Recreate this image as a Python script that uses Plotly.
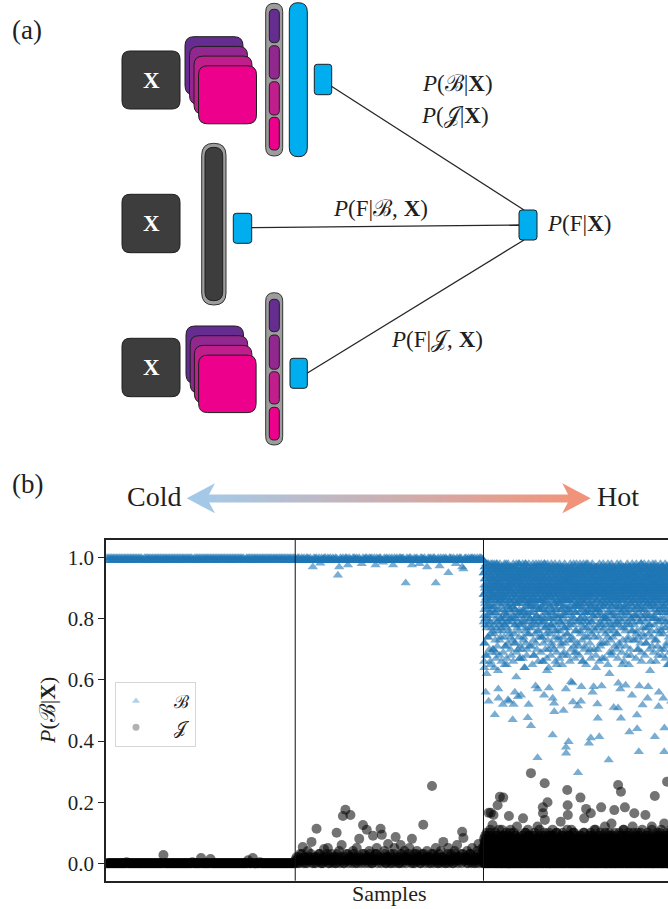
import numpy as np
import plotly.graph_objects as go

W, H = 668, 909

# ---------------- data (values in percent) ----------------
regime_names = ["Cold", "Hot"]
region_len = 1000  # x-axis span given to each temperature regime

# every regime holds two interleaved batches of samples (a, b)
cold_B_a = [100, 100, 100, 100, 100, 100, 100, 100, 100, 100, 100, 100, 100, 100, 100, 100, 100, 100, 100, 100,
            100, 100, 100, 99.6, 100, 100, 100, 100, 100, 100, 100, 100, 100, 100, 100, 100, 100, 100, 100, 100,
            100, 100, 100, 100, 100, 100, 100, 100, 100, 100, 100, 100, 100, 100, 100, 99.7, 100, 100, 100, 100,
            100, 100, 100, 100, 100, 100, 100, 100, 100, 100, 100, 100, 100, 100, 100, 100, 100, 100, 100, 100,
            100, 100, 100, 100, 100, 100, 100, 100, 99.5, 100, 100, 100, 100, 100, 100, 100, 100, 100, 100, 100,
            100, 100, 100, 100, 100, 100, 100, 100, 100, 100, 100, 100, 100, 100, 100, 100, 100, 100, 100, 100]
cold_B_b = [99, 99.2, 99, 99.4, 99, 99.1, 99.3, 99, 99.2, 99, 99, 99.4, 99.1, 99, 99.2, 99, 99.3, 99, 99.1, 99.2,
            99, 99.3, 99.1, 99, 99.2, 99, 99.4, 99, 99.1, 99, 99.2, 99.3, 99, 99.1, 99, 99.2, 99, 99.4, 99, 99.1,
            99.2, 99, 99.3, 99, 99.1, 99.2, 99, 99, 99.4, 99.1, 99, 99.2, 99.3, 99, 99.1, 99, 99.2, 99, 99.3, 99,
            99.1, 99, 99.2, 99.4, 99, 99.1, 99.3, 99, 99.2, 99, 99.1, 99, 99.4, 99.2, 99, 99.3, 99.1, 99, 99.2, 99,
            99, 99.3, 99.1, 99, 99.2, 99.4, 99, 99.1, 99, 99.3, 99.2, 99, 99.1, 99, 99.4, 99, 99.2, 99.1, 99, 99.3,
            99.2, 99, 99.1, 99.3, 99, 99.2, 99, 99.4, 99.1, 99, 99.2, 99.3, 99, 99.1, 99, 99.2, 99.4, 99, 99.1, 99]
cold_J_a = [0, 0, 0, 0, 0, 0, 0, 0, 0, 0, 0, 0, 0, 0, 0, 0, 0, 0, 0, 0,
            0, 0, 0, 0, 0, 0, 0, 0, 0, 0, 0, 0, 0, 0, 0, 0, 2.7, 0, 0, 0,
            0, 0, 0, 0, 0, 0, 0, 0, 0, 0, 0, 0, 0, 0, 0, 0, 0, 0, 0, 0,
            1.7, 0, 0, 0, 0, 0, 1.4, 0, 0, 0, 0, 0, 0, 0, 0, 0, 0, 0, 0, 0,
            0, 0, 0, 0, 0, 0, 0, 0, 0, 0, 1, 0, 0, 1.7, 0, 0, 0, 0, 0, 0,
            0, 0, 0, 0, 0, 0, 0, 0, 0, 0, 0, 0, 0, 0, 0, 0, 0, 0, 0, 0]
cold_J_b = [0, 0, 0, 0, 0, 0, 0, 0, 0, 0, 0, 0, 0.3, 0, 0, 0, 0, 0, 0, 0,
            0, 0, 0, 0, 0, 0, 0, 0, 0, 0, 0, 0, 0, 0, 0, 0, 0, 0, 0, 0,
            0, 0, 0, 0, 0, 0, 0, 0, 0, 0, 0, 0, 0, 0, 0.3, 0, 0, 0, 0, 0,
            0, 0, 0, 0, 0, 0, 0, 0, 0, 0, 0, 0, 0, 0, 0, 0, 0, 0, 0, 0,
            0, 0, 0, 0, 0, 0, 0, 0, 0, 0, 0, 0, 0, 0, 0, 0, 0, 0.3, 0, 0,
            0, 0, 0, 0, 0, 0, 0, 0, 0, 0, 0, 0, 0, 0, 0, 0, 0, 0, 0, 0]

mid_B_a = [100, 99.4, 100, 100, 99.1, 100, 99.7, 100, 99.3, 100, 100, 99.6, 100, 99, 97,
           100, 99.8, 100, 99.2, 100, 98.2, 100, 99.5, 100, 100, 99.1, 100, 99.7, 100, 99.4,
           100, 99.3, 100, 99.8, 94.3, 97, 100, 99.5, 100, 99.1, 100, 100, 97.6, 100, 99.6,
           99.2, 100, 100, 99.7, 100, 99.4, 100, 99, 98, 100, 99.6, 100, 100, 99.3, 100,
           99.8, 100, 99.1, 100, 97.6, 100, 99.5, 100, 100, 99.2, 98.5, 100, 99.7, 100, 99.4,
           100, 99, 100, 97.6, 100, 99.6, 100, 99.3, 100, 100, 99.8, 100, 99.2, 91.7, 100,
           99.5, 100, 100, 97.6, 99.1, 100, 99.7, 100, 99.4, 98, 100, 100, 99.6, 100, 99.2,
           97, 100, 99.8, 100, 99.3, 100, 100, 91.7, 99.5, 100, 97.3, 100, 99, 100, 99.7,
           100, 99.4, 95.1, 100, 100, 99.1, 100, 99.6, 98, 100, 99.3, 100, 100, 97, 96.3,
           99.8, 100, 99.2, 100, 99.5, 100, 100, 99.7, 100, 99, 100, 99.4, 100, 100, 99.6]
mid_B_b = [99.1, 99, 99.3, 99, 99.2, 99.4, 99, 99.1, 99, 99.3, 99.2, 99, 99.1, 99.4, 99,
           99.2, 99, 99.1, 99.3, 99, 99.2, 99, 99.4, 99.1, 99, 99.3, 99, 99.2, 99.1, 99,
           99.4, 99, 99.2, 99, 99.1, 99.3, 99, 99.2, 99, 99.1, 99.4, 99, 99.3, 99, 99.2,
           99, 99.1, 99.3, 99, 99.2, 99, 99.4, 99.1, 99, 99.2, 99.3, 99, 99.1, 99, 99.2,
           99.3, 99, 99.1, 99.2, 99, 99.4, 99, 99.3, 99.1, 99, 99.2, 99, 99.1, 99.3, 99,
           99.2, 99.4, 99, 99.1, 99, 99.3, 99.2, 99, 99.1, 99, 99.4, 99.2, 99, 99.3, 99,
           99.1, 99, 99.2, 99.4, 99, 99.1, 99.3, 99, 99.2, 99, 99.1, 99, 99.3, 99.2, 99,
           99, 99.2, 99.1, 99, 99.3, 99, 99.4, 99.1, 99, 99.2, 99, 99.3, 99.1, 99, 99.2,
           99.4, 99, 99.1, 99.3, 99, 99.2, 99, 99.1, 99.4, 99, 99.2, 99.3, 99, 99.1, 99,
           99.2, 99, 99.3, 99.1, 99, 99.4, 99.2, 99, 99.1, 99.3, 99, 99.2, 99, 99.1, 99.3]
mid_J_a = [1, 2, 0, 1, 3, 1, 5.3, 2, 0, 1, 4, 1, 2, 7, 1,
           0, 2, 11.3, 1, 3, 1, 0, 2, 4.7, 1, 2, 5, 0, 1, 3,
           2, 1, 0, 10, 2, 4, 1, 6, 15.5, 0, 17.5, 1, 3, 2, 15.8,
           1, 4, 2, 0, 5, 1, 8, 2, 1, 12.5, 3, 1, 11, 2, 4,
           2, 0, 9, 1, 3, 5, 1, 2, 11.3, 9.3, 1, 4, 0, 2, 6.3,
           1, 3, 0, 2, 5, 8.6, 1, 2, 0, 6, 3, 1, 4, 2, 1,
           2, 5, 1, 8, 0, 3, 1, 4, 2, 1, 0, 3, 12.6, 1, 2,
           4, 1, 2, 0, 25.3, 3, 1, 5, 2, 0, 1, 4, 2, 7, 1,
           0, 2, 5, 1, 3, 1, 0, 4, 2, 6, 1, 2, 3, 10.3, 8.3,
           1, 2, 4, 0, 3, 1, 5, 2, 1, 0, 4, 6.3, 2, 3, 5]
mid_J_b = [0, 1, 2, 0, 1, 3, 0, 2, 1, 0, 2, 1, 3, 0, 1,
           2, 0, 1, 2, 3, 0, 1, 0, 2, 1, 3, 0, 2, 1, 0,
           1, 2, 0, 3, 1, 0, 2, 1, 0, 2, 3, 1, 0, 1, 2,
           0, 3, 1, 2, 0, 1, 2, 0, 3, 1, 0, 2, 1, 0, 3,
           1, 0, 2, 1, 3, 0, 2, 1, 0, 1, 2, 3, 0, 2, 1,
           0, 2, 1, 3, 0, 1, 2, 0, 1, 3, 0, 2, 1, 0, 2,
           3, 1, 0, 2, 1, 0, 3, 2, 1, 0, 2, 1, 3, 0, 1,
           2, 0, 1, 3, 2, 0, 1, 2, 0, 3, 1, 0, 2, 1, 0,
           1, 3, 0, 2, 1, 0, 2, 3, 1, 0, 1, 2, 0, 3, 1,
           2, 0, 1, 2, 3, 0, 1, 0, 2, 1, 3, 0, 2, 1, 0]

hot_B_a = [
    99, 95, 88, 81, 72, 64, 93, 97, 90, 85, 78, 68, 96, 91, 87, 98, 83, 62, 94, 89, 97, 92, 80, 86, 95, 74, 90, 98, 88, 84, 93, 96, 79, 91, 87, 97, 66, 94, 89, 82, 98, 92, 86, 95, 77, 90, 97, 88, 93, 70,
    93, 97, 89, 84, 96, 91, 75, 98, 87, 92, 48.6, 95, 82, 90, 97, 86, 94, 69, 88, 96, 92, 79, 98, 85, 91, 93, 87, 63, 97, 90, 54, 94, 88, 83, 96, 92, 73, 98, 89, 86, 95, 91, 80, 97, 87, 93, 77, 90, 96, 88,
    90, 96, 88, 52, 94, 85, 97, 91, 78, 93, 87, 98, 82, 95, 89, 71, 92, 96, 86, 81, 97, 90, 94, 65, 88, 93, 79, 96, 91, 87, 53.5, 98, 84, 92, 95, 76, 89, 97, 90, 86, 93, 83, 96, 74, 91, 88, 97, 80, 94, 92,
    95, 89, 93, 84, 97, 47, 91, 86, 98, 80, 52, 94, 88, 92, 72, 96, 83, 90, 97, 87, 78, 93, 95, 89, 61, 98, 91, 85, 94, 96, 88, 81, 92, 54.5, 97, 90, 76, 93, 86, 95, 98, 82, 89, 94, 67, 91, 96, 87, 93, 55,
    92, 97, 86, 90, 95, 79, 88, 94, 98, 83, 91, 73, 96, 87, 93, 89, 82, 97, 90, 64, 95, 86, 92, 98, 77, 89, 94, 91, 85, 96, 88, 70, 93, 97, 81, 47.6, 90, 95, 87, 92, 84, 98, 89, 75, 94, 91, 86, 96, 80, 93,
    94, 88, 45, 96, 91, 85, 97, 89, 78, 93, 95, 86, 92, 98, 82, 90, 68, 96, 87, 94, 91, 79, 97, 88, 93, 84, 95, 90, 72, 98, 86, 92, 89, 96, 81, 93, 97, 34.5, 57, 90, 88, 95, 83, 92, 76, 97, 89, 94, 86, 91,
    97, 90, 86, 93, 80, 95, 89, 98, 84, 92, 74, 96, 88, 91, 97, 83, 94, 87, 66, 90, 95, 92, 79, 98, 86, 93, 89, 96, 85, 91, 77, 97, 88, 94, 90, 82, 96, 63, 92, 87, 98, 89, 93, 81, 95, 70, 91, 97, 57.4, 88,
    91, 95, 88, 97, 84, 90, 93, 78, 96, 87, 92, 98, 82, 89, 94, 71, 95, 42, 90, 86, 97, 93, 80, 91, 88, 52.4, 49.6, 96, 85, 92, 98, 89, 76, 94, 90, 87, 97, 83, 93, 65, 91, 96, 88, 81, 95, 92, 97, 86, 74, 90,
    96, 89, 93, 85, 98, 91, 79, 94, 87, 92, 97, 83, 90, 95, 72, 88, 96, 91, 86, 93, 81, 97, 89, 94, 68, 50, 92, 87, 96, 90, 84, 98, 93, 77, 91, 88, 95, 86, 38, 36, 97, 92, 82, 89, 94, 90, 75, 96, 87, 93,
    93, 97, 39.8, 88, 95, 90, 83, 96, 86, 92, 78, 98, 89, 94, 91, 59.4, 87, 97, 93, 80, 90, 95, 88, 73, 96, 52.8, 91, 86, 94, 98, 84, 89, 92, 97, 69, 90, 95, 87, 82, 93, 96, 89, 91, 76, 98, 88, 94, 85, 92, 90,
    95, 51.5, 29.6, 91, 88, 96, 84, 93, 97, 89, 80, 92, 86, 98, 90, 94, 75, 87, 95, 91, 57.8, 83, 97, 88, 93, 66, 96, 90, 86, 94, 79, 98, 92, 89, 95, 85, 91, 97, 71, 88, 93, 96, 82, 90, 94, 87, 98, 77, 92, 89,
    90, 96, 87, 93, 98, 82, 91, 88, 95, 76, 39.3, 94, 89, 97, 85, 92, 90, 70, 96, 88, 41, 93, 97, 84, 91, 95, 86, 79, 98, 90, 93, 87, 96, 81, 92, 57.8, 89, 94, 97, 74, 90, 88, 95, 92, 83, 96, 89, 93, 64, 97,
    94, 89, 97, 86, 92, 52.1, 95, 47.5, 90, 83, 96, 88, 93, 78, 91, 41.4, 98, 87, 94, 90, 85, 96, 72, 92, 89, 97, 81, 93, 95, 88, 91, 67, 96, 86, 94, 90, 98, 84, 92, 77, 89, 95, 93, 87, 97, 91, 80, 94, 88, 96,
    91, 96, 88, 93, 80, 97, 90, 86, 94, 74, 92, 98, 89, 85, 95, 33.8, 90, 96, 87, 62, 93, 97, 82, 91, 88, 95, 78, 94, 90, 86, 98, 92, 69, 89, 96, 93, 84, 91, 97, 87, 76, 94, 90, 95, 88, 81, 92, 96, 89, 93,
    97, 90, 94, 87, 92, 83, 96, 89, 75, 93, 98, 86, 91, 95, 79, 50.8, 58.9, 88, 94, 97, 90, 84, 92, 96, 71, 89, 93, 87, 98, 91, 47.5, 95, 82, 90, 97, 88, 94, 65, 92, 86, 96, 89, 93, 80, 91, 97, 87, 95, 77, 90,
    93, 88, 96, 91, 84, 58.3, 97, 89, 94, 86, 92, 78, 95, 90, 98, 87, 93, 73, 91, 96, 89, 82, 94, 97, 88, 43, 92, 90, 95, 85, 97, 91, 68, 93, 87, 96, 80, 90, 94, 89, 98, 92, 76, 95, 88, 91, 86, 97, 83, 93,
    90, 95, 88, 97, 92, 81, 94, 89, 96, 86, 93, 75, 98, 90, 87, 48.5, 44, 95, 91, 84, 97, 89, 93, 70, 96, 36.5, 88, 92, 94, 79, 90, 97, 86, 95, 91, 83, 98, 89, 93, 66, 92, 96, 87, 94, 90, 51.8, 85, 97, 91, 88,
    96, 91, 87, 94, 98, 83, 90, 93, 77, 95, 89, 97, 86, 92, 72, 96, 90, 88, 94, 81, 97, 91, 85, 93, 89, 57.8, 95, 98, 87, 90, 78, 94, 92, 96, 86, 63, 91, 97, 89, 84, 93, 95, 88, 90, 74, 96, 92, 87, 94, 98,
    92, 97, 89, 94, 86, 91, 96, 80, 93, 88, 41.4, 95, 90, 98, 84, 92, 87, 96, 73, 91, 94, 89, 97, 82, 90, 93, 86, 95, 68, 92, 51.3, 97, 88, 94, 79, 90, 96, 87, 93, 85, 98, 91, 76, 95, 89, 92, 97, 83, 90, 94,
    95, 90, 87, 93, 97, 54, 89, 92, 84, 96, 36.5, 44.3, 91, 88, 94, 98, 79, 90, 95, 86, 93, 71, 97, 89, 92, 85, 96, 90, 94, 82, 88, 97, 91, 65, 93, 87, 95, 98, 89, 77, 92, 96, 86, 94, 90, 83, 97, 91, 88, 93,
]
hot_B_b = [
    88, 79, 95, 66, 91, 83, 97, 72, 86, 80, 93, 56, 89, 84, 96, 77, 90, 68, 94, 81, 87, 98, 74, 92, 85, 78, 95, 53, 89, 82, 97, 70, 91, 86, 79, 93, 65, 88, 84, 96, 75, 90, 81, 94, 69, 87, 83, 98, 76, 92,
    84, 93, 70, 88, 97, 78, 91, 64, 95, 82, 87, 96, 73, 90, 80, 94, 67, 86, 98, 77, 92, 83, 89, 71, 96, 79, 88, 93, 57, 85, 91, 76, 97, 81, 90, 68, 94, 86, 78, 92, 74, 89, 95, 80, 87, 66, 93, 84, 97, 79,
    91, 76, 86, 95, 69, 83, 90, 97, 80, 74, 93, 88, 65, 96, 82, 89, 78, 94, 71, 87, 98, 81, 92, 67, 85, 90, 77, 95, 84, 72, 91, 97, 79, 88, 53, 94, 83, 90, 75, 96, 86, 80, 93, 70, 89, 97, 82, 68, 91, 85,
    79, 94, 87, 73, 96, 84, 90, 66, 92, 81, 88, 97, 75, 86, 93, 78, 56, 95, 83, 89, 72, 97, 80, 91, 85, 69, 94, 87, 77, 92, 96, 82, 70, 88, 93, 79, 85, 98, 74, 90, 83, 67, 95, 86, 78, 92, 89, 71, 96, 81,
    93, 85, 70, 89, 78, 96, 82, 91, 67, 87, 94, 80, 74, 97, 88, 83, 92, 64, 79, 95, 86, 90, 76, 98, 81, 72, 93, 87, 84, 68, 96, 89, 79, 91, 75, 94, 85, 82, 97, 52, 88, 92, 77, 86, 95, 71, 90, 84, 80, 96,
    82, 90, 96, 71, 86, 93, 77, 88, 84, 65, 95, 79, 91, 87, 73, 97, 83, 89, 68, 94, 80, 92, 86, 75, 96, 88, 58, 90, 85, 78, 93, 97, 81, 70, 89, 84, 95, 76, 91, 87, 66, 94, 80, 98, 83, 74, 90, 86, 79, 93,
    95, 78, 88, 83, 69, 92, 86, 97, 74, 90, 81, 94, 66, 87, 79, 93, 84, 96, 72, 89, 85, 55, 91, 80, 98, 77, 88, 93, 70, 86, 82, 95, 75, 90, 87, 67, 94, 83, 78, 97, 89, 73, 92, 85, 80, 96, 64, 88, 91, 76,
    87, 93, 75, 84, 96, 80, 68, 91, 89, 78, 95, 83, 72, 97, 86, 90, 77, 54, 94, 82, 88, 92, 79, 70, 96, 85, 89, 81, 93, 74, 97, 87, 66, 90, 84, 78, 95, 91, 83, 69, 88, 94, 76, 86, 92, 80, 97, 73, 89, 85,
    90, 81, 94, 67, 88, 85, 76, 97, 92, 79, 86, 71, 95, 83, 89, 93, 78, 65, 91, 87, 80, 96, 74, 90, 84, 88, 69, 94, 82, 77, 97, 86, 92, 72, 81, 95, 89, 57, 87, 93, 79, 84, 96, 75, 90, 83, 68, 92, 86, 94,
    77, 92, 86, 95, 73, 89, 82, 91, 66, 96, 84, 79, 93, 88, 70, 97, 85, 90, 81, 74, 94, 87, 59, 92, 83, 96, 78, 89, 91, 71, 86, 95, 80, 88, 93, 67, 97, 84, 76, 90, 82, 94, 69, 87, 92, 79, 85, 96, 72, 89,
    94, 84, 71, 90, 87, 79, 96, 82, 93, 68, 88, 85, 97, 76, 91, 80, 89, 53, 95, 86, 78, 92, 84, 73, 97, 90, 81, 87, 66, 94, 83, 91, 77, 88, 96, 70, 85, 93, 80, 89, 74, 97, 86, 82, 65, 91, 88, 95, 79, 84,
    86, 97, 80, 74, 92, 88, 83, 95, 69, 90, 78, 94, 87, 82, 72, 96, 89, 84, 91, 67, 85, 93, 79, 88, 97, 75, 90, 83, 94, 56, 87, 81, 96, 89, 77, 92, 85, 70, 95, 80, 88, 93, 76, 91, 84, 97, 68, 86, 90, 82,
    91, 83, 88, 77, 95, 70, 86, 92, 81, 97, 74, 89, 84, 93, 66, 90, 87, 79, 96, 82, 71, 94, 88, 85, 91, 78, 97, 58, 89, 83, 93, 76, 86, 95, 80, 90, 72, 88, 84, 97, 79, 92, 67, 85, 94, 81, 89, 96, 75, 87,
    80, 95, 89, 72, 87, 93, 84, 78, 96, 90, 65, 86, 82, 94, 91, 76, 88, 97, 83, 69, 92, 85, 79, 95, 73, 89, 96, 81, 87, 90, 68, 93, 84, 77, 97, 88, 82, 74, 91, 86, 94, 51, 89, 80, 96, 85, 71, 92, 87, 78,
    96, 86, 79, 91, 84, 70, 93, 88, 81, 95, 75, 87, 92, 67, 97, 83, 90, 78, 85, 94, 72, 89, 96, 80, 86, 93, 57, 91, 84, 97, 77, 88, 82, 95, 69, 90, 86, 79, 94, 87, 73, 92, 83, 97, 81, 89, 66, 95, 84, 90,
    83, 91, 94, 76, 88, 97, 71, 85, 90, 82, 93, 68, 87, 96, 79, 89, 84, 92, 74, 97, 86, 81, 65, 94, 90, 88, 78, 95, 83, 70, 91, 87, 96, 80, 93, 85, 76, 89, 55, 97, 84, 92, 79, 86, 95, 73, 90, 88, 81, 94,
    89, 78, 92, 85, 96, 73, 90, 83, 87, 67, 94, 81, 97, 88, 76, 91, 84, 70, 95, 86, 80, 93, 89, 74, 97, 82, 88, 58, 92, 85, 79, 96, 90, 72, 84, 94, 87, 81, 98, 69, 91, 86, 77, 93, 83, 89, 75, 96, 80, 88,
    92, 87, 74, 95, 81, 89, 93, 68, 86, 97, 79, 84, 91, 72, 88, 96, 82, 90, 77, 94, 85, 54, 92, 88, 80, 97, 75, 89, 84, 93, 70, 86, 95, 81, 90, 78, 87, 94, 66, 91, 83, 97, 76, 89, 85, 92, 71, 88, 96, 80,
    85, 94, 81, 90, 69, 96, 87, 78, 92, 84, 97, 73, 89, 83, 95, 66, 91, 86, 80, 93, 76, 88, 97, 82, 71, 90, 85, 94, 79, 87, 92, 56, 96, 83, 89, 75, 91, 88, 80, 95, 70, 86, 93, 84, 77, 97, 89, 82, 68, 91,
    93, 80, 88, 97, 75, 86, 91, 84, 70, 95, 89, 82, 94, 77, 87, 96, 67, 90, 83, 92, 79, 85, 97, 72, 88, 93, 81, 65, 95, 86, 90, 78, 84, 96, 74, 89, 92, 83, 69, 94, 87, 80, 97, 76, 91, 85, 88, 53, 93, 82,
]
hot_J_a = [
    2, 5, 1, 8, 3, 0, 6, 4, 1, 9, 2, 7, 3, 0, 5, 1, 4, 10, 2, 6, 3, 1, 0, 5, 8, 2, 4, 1, 16.5, 3, 6, 0, 2, 7, 4, 1, 11, 3, 5, 16.5, 2, 0, 4, 9, 1, 6, 3, 2, 12.5, 5,
    4, 1, 6, 15.8, 2, 0, 5, 3, 8, 1, 7, 2, 4, 0, 10, 3, 6, 1, 5, 2, 9, 0, 3, 4, 1, 19, 6, 2, 7, 0, 3, 5, 1, 11, 4, 2, 8, 21.8, 0, 6, 3, 1, 5, 2, 9, 4, 0, 7, 3, 1,
    3, 0, 5, 2, 7, 21.5, 1, 4, 6, 0, 9, 3, 2, 5, 1, 8, 4, 0, 6, 2, 3, 10, 1, 5, 7, 0, 2, 4, 1, 6, 3, 9, 0, 5, 2, 15.5, 4, 1, 7, 3, 0, 6, 2, 11, 5, 1, 3, 8, 0, 4,
    1, 6, 3, 0, 8, 2, 5, 4, 1, 7, 0, 3, 10, 2, 6, 1, 4, 0, 5, 9, 2, 3, 1, 7, 0, 4, 6, 2, 12, 1, 5, 3, 0, 8, 2, 6, 4, 1, 3, 0, 7, 5, 2, 9, 1, 4, 0, 6, 3, 2,
    5, 2, 0, 7, 3, 1, 6, 4, 9, 2, 14.7, 0, 5, 3, 1, 8, 2, 6, 0, 4, 3, 10, 1, 5, 2, 7, 0, 3, 6, 1, 4, 2, 8, 0, 5, 3, 11, 1, 6, 2, 0, 4, 7, 3, 1, 9, 5, 2, 0, 6,
    2, 4, 29.5, 1, 6, 0, 3, 8, 5, 2, 1, 7, 4, 0, 9, 3, 6, 2, 1, 5, 0, 10, 3, 4, 2, 7, 1, 6, 0, 3, 5, 2, 8, 1, 4, 0, 6, 12, 3, 2, 5, 1, 7, 0, 4, 3, 9, 2, 6, 1,
    3, 1, 6, 0, 8, 4, 2, 5, 1, 9, 3, 0, 7, 2, 4, 18.3, 16.4, 1, 6, 3, 0, 5, 2, 10, 4, 26.2, 14.2, 1, 7, 3, 5, 0, 2, 6, 1, 8, 4, 3, 0, 5, 20, 2, 6, 1, 9, 3, 0, 4, 7, 2,
    0, 5, 2, 7, 1, 4, 3, 9, 0, 6, 2, 1, 5, 8, 3, 0, 4, 11, 2, 6, 1, 3, 7, 0, 5, 2, 4, 9, 1, 6, 0, 3, 8, 2, 5, 1, 4, 0, 7, 3, 10, 2, 6, 1, 0, 4, 5, 3, 8, 2,
    4, 2, 6, 0, 3, 8, 1, 5, 2, 7, 13.6, 0, 4, 3, 9, 1, 6, 2, 5, 0, 3, 10, 1, 7, 4, 2, 0, 6, 3, 5, 1, 8, 2, 4, 0, 6, 3, 1, 9, 2, 5, 0, 7, 3, 1, 24, 4, 19, 15.8, 2,
    1, 5, 3, 0, 7, 2, 4, 9, 1, 6, 3, 0, 8, 2, 5, 1, 4, 11, 0, 3, 6, 2, 7, 1, 5, 0, 4, 10, 2, 3, 1, 6, 0, 8, 4, 2, 5, 1, 3, 9, 0, 6, 2, 4, 7, 1, 3, 0, 5, 2,
    3, 0, 6, 2, 8, 4, 1, 5, 0, 7, 2, 3, 9, 1, 4, 21.5, 0, 6, 2, 5, 3, 1, 8, 0, 4, 2, 7, 1, 6, 3, 0, 10, 5, 2, 4, 14.7, 1, 3, 6, 0, 8, 2, 5, 1, 4, 17.8, 0, 3, 7, 2,
    5, 1, 3, 7, 0, 4, 2, 9, 6, 1, 3, 0, 8, 5, 2, 4, 1, 6, 0, 10, 16.4, 3, 2, 7, 1, 5, 0, 4, 9, 2, 6, 3, 1, 0, 8, 4, 2, 5, 1, 11, 3, 0, 6, 2, 7, 4, 1, 3, 0, 5,
    2, 6, 0, 4, 8, 1, 3, 5, 2, 7, 0, 9, 4, 1, 6, 3, 0, 5, 2, 10, 1, 4, 7, 3, 0, 18.3, 6, 2, 5, 1, 8, 3, 0, 4, 2, 6, 1, 9, 3, 5, 0, 2, 7, 4, 1, 12, 3, 0, 6, 2,
    4, 0, 7, 2, 5, 1, 3, 8, 0, 6, 2, 4, 9, 1, 3, 5, 0, 7, 2, 10, 4, 1, 6, 3, 0, 2, 8, 5, 1, 4, 13, 0, 6, 2, 3, 9, 1, 5, 0, 7, 2, 4, 1, 6, 3, 17.4, 0, 5, 2, 8,
    1, 5, 3, 0, 8, 2, 6, 4, 1, 9, 3, 0, 7, 2, 5, 25.6, 1, 4, 0, 6, 3, 10, 2, 5, 1, 7, 0, 4, 3, 8, 23.4, 2, 6, 1, 0, 5, 3, 9, 2, 4, 1, 7, 0, 6, 3, 11, 2, 5, 1, 4,
    3, 18.3, 6, 2, 0, 5, 1, 8, 4, 2, 7, 0, 3, 9, 1, 5, 2, 6, 0, 4, 10, 3, 1, 7, 2, 5, 0, 8, 4, 1, 3, 6, 2, 0, 9, 5, 1, 4, 2, 7, 0, 3, 12, 1, 6, 4, 2, 0, 5, 3,
    2, 16.4, 4, 0, 7, 3, 1, 5, 9, 2, 6, 0, 4, 8, 1, 3, 5, 2, 0, 10, 6, 1, 4, 3, 7, 0, 2, 5, 1, 9, 3, 6, 0, 4, 2, 8, 1, 5, 3, 0, 7, 2, 4, 11, 1, 6, 3, 0, 5, 2,
    5, 1, 3, 7, 0, 4, 2, 8, 6, 1, 15.8, 3, 0, 5, 2, 9, 4, 1, 6, 0, 3, 7, 2, 10, 5, 1, 4, 0, 8, 3, 2, 6, 1, 5, 0, 9, 4, 2, 7, 3, 1, 0, 6, 4, 12, 2, 5, 1, 3, 0,
    3, 0, 6, 2, 8, 4, 1, 5, 0, 7, 22, 2, 4, 9, 1, 3, 6, 0, 5, 2, 7, 1, 4, 10, 3, 0, 6, 2, 8, 1, 5, 3, 0, 4, 9, 2, 6, 1, 3, 7, 0, 5, 2, 4, 11, 1, 6, 3, 0, 2,
    1, 4, 7, 0, 3, 5, 2, 8, 1, 6, 13, 0, 4, 2, 9, 3, 5, 1, 7, 0, 2, 6, 3, 10, 4, 26.7, 1, 5, 0, 8, 2, 3, 6, 1, 4, 0, 9, 2, 5, 3, 7, 1, 0, 4, 2, 6, 11, 3, 1, 5,
]
hot_J_b = [
    3, 1, 5, 0, 2, 7, 4, 1, 6, 3, 0, 8, 2, 5, 1, 4, 0, 3, 6, 2, 9, 1, 5, 3, 0, 4, 2, 7, 1, 6, 0, 3, 5, 2, 10, 1, 4, 0, 6, 3, 2, 5, 1, 7, 0, 4, 3, 8, 2, 1,
    0, 4, 2, 6, 1, 3, 8, 0, 5, 2, 4, 1, 7, 3, 0, 6, 2, 5, 1, 9, 3, 0, 4, 2, 6, 1, 5, 3, 0, 7, 2, 4, 1, 8, 3, 0, 5, 2, 6, 1, 4, 0, 3, 7, 2, 5, 1, 11, 0, 3,
    5, 2, 0, 3, 7, 1, 4, 6, 2, 0, 9, 3, 1, 5, 2, 4, 0, 6, 3, 1, 7, 2, 5, 0, 4, 1, 8, 3, 2, 6, 0, 5, 1, 3, 4, 2, 7, 0, 1, 6, 3, 10, 2, 5, 0, 4, 1, 3, 6, 2,
    1, 6, 3, 0, 4, 2, 5, 8, 1, 3, 0, 7, 2, 4, 6, 1, 0, 3, 5, 2, 9, 4, 1, 0, 6, 3, 2, 5, 1, 7, 4, 0, 3, 2, 6, 1, 8, 5, 0, 2, 4, 1, 3, 7, 0, 5, 2, 6, 1, 4,
    2, 0, 5, 3, 1, 7, 4, 2, 0, 6, 3, 1, 8, 5, 2, 0, 4, 3, 6, 1, 2, 5, 0, 10, 3, 1, 4, 7, 2, 0, 5, 3, 1, 6, 2, 4, 0, 9, 3, 1, 5, 2, 0, 4, 6, 1, 3, 7, 2, 0,
    4, 1, 3, 6, 0, 2, 5, 1, 8, 3, 0, 4, 2, 7, 1, 5, 3, 0, 6, 2, 4, 1, 9, 0, 3, 5, 2, 1, 6, 4, 0, 7, 3, 2, 5, 1, 0, 4, 8, 2, 3, 6, 1, 0, 5, 2, 4, 11, 1, 3,
    0, 3, 6, 2, 4, 1, 7, 0, 5, 3, 2, 8, 1, 4, 0, 6, 2, 3, 5, 1, 0, 7, 4, 2, 9, 1, 3, 0, 6, 5, 2, 4, 1, 3, 0, 8, 2, 6, 1, 4, 3, 0, 5, 2, 7, 1, 10, 3, 0, 4,
    3, 5, 1, 0, 7, 2, 4, 6, 0, 3, 1, 9, 2, 5, 4, 0, 3, 6, 1, 2, 8, 0, 4, 3, 5, 1, 2, 7, 0, 4, 6, 2, 1, 3, 5, 0, 10, 2, 4, 1, 6, 3, 0, 5, 2, 8, 1, 4, 0, 2,
    1, 2, 6, 4, 0, 3, 8, 1, 5, 2, 0, 4, 7, 3, 1, 6, 2, 0, 5, 9, 1, 3, 4, 0, 2, 6, 1, 5, 3, 7, 0, 2, 4, 1, 8, 3, 0, 6, 2, 5, 1, 4, 0, 3, 11, 2, 6, 1, 0, 4,
    6, 0, 2, 5, 3, 1, 4, 9, 0, 2, 7, 3, 1, 5, 0, 4, 2, 8, 6, 1, 3, 0, 5, 2, 4, 1, 7, 3, 0, 6, 2, 10, 1, 4, 3, 0, 5, 2, 6, 1, 3, 8, 0, 2, 4, 5, 1, 7, 3, 0,
    2, 4, 1, 7, 0, 3, 5, 2, 6, 1, 0, 8, 3, 4, 2, 1, 5, 0, 9, 3, 6, 2, 1, 4, 0, 7, 3, 5, 1, 2, 0, 6, 4, 3, 1, 10, 2, 0, 5, 3, 1, 4, 7, 2, 0, 6, 3, 1, 5, 2,
    5, 1, 3, 0, 6, 2, 4, 8, 1, 0, 3, 5, 7, 2, 4, 1, 0, 6, 3, 2, 9, 5, 1, 0, 4, 3, 6, 2, 1, 7, 0, 5, 3, 2, 4, 8, 1, 0, 6, 3, 2, 5, 1, 4, 0, 11, 3, 2, 6, 1,
    0, 3, 5, 2, 1, 6, 4, 0, 7, 3, 2, 5, 1, 8, 0, 4, 3, 6, 2, 1, 5, 0, 9, 4, 2, 3, 1, 6, 0, 5, 7, 2, 4, 1, 3, 0, 6, 2, 8, 5, 1, 3, 0, 4, 2, 7, 1, 10, 3, 0,
    4, 2, 0, 6, 3, 1, 5, 7, 2, 0, 4, 1, 8, 3, 5, 2, 0, 6, 1, 4, 3, 9, 0, 2, 5, 1, 6, 3, 0, 4, 7, 2, 1, 5, 3, 0, 8, 4, 2, 6, 1, 0, 3, 5, 2, 4, 10, 1, 6, 0,
    1, 5, 3, 0, 2, 7, 4, 1, 6, 0, 3, 2, 8, 5, 1, 4, 0, 3, 6, 2, 7, 1, 0, 5, 4, 2, 9, 3, 1, 6, 0, 4, 2, 5, 3, 1, 7, 0, 2, 4, 6, 1, 3, 11, 0, 5, 2, 4, 1, 3,
    3, 0, 4, 6, 1, 2, 5, 8, 0, 3, 1, 7, 4, 2, 0, 5, 3, 6, 1, 9, 2, 0, 4, 3, 5, 1, 6, 2, 0, 7, 3, 4, 1, 5, 2, 0, 8, 3, 6, 1, 4, 2, 0, 5, 10, 3, 1, 6, 2, 4,
    6, 2, 1, 4, 0, 5, 3, 7, 1, 2, 0, 6, 4, 9, 3, 1, 5, 2, 0, 8, 4, 1, 3, 6, 2, 0, 5, 7, 1, 3, 4, 0, 2, 6, 1, 10, 3, 5, 0, 2, 4, 1, 7, 3, 0, 6, 2, 5, 1, 3,
    2, 4, 0, 3, 7, 1, 5, 2, 6, 0, 4, 8, 1, 3, 5, 0, 2, 6, 4, 1, 3, 9, 0, 5, 2, 1, 7, 4, 3, 0, 6, 2, 5, 1, 3, 8, 0, 4, 2, 6, 1, 5, 3, 0, 11, 2, 4, 1, 7, 0,
    5, 3, 1, 0, 6, 2, 4, 7, 0, 3, 1, 5, 2, 8, 4, 0, 6, 1, 3, 2, 5, 0, 9, 4, 1, 3, 6, 2, 0, 7, 5, 1, 4, 3, 0, 2, 6, 10, 1, 4, 3, 0, 5, 2, 7, 1, 3, 6, 0, 2,
    0, 2, 5, 3, 1, 6, 4, 0, 8, 2, 3, 1, 7, 5, 0, 4, 2, 6, 3, 1, 9, 0, 5, 2, 4, 1, 3, 7, 0, 6, 2, 4, 1, 5, 3, 0, 8, 2, 6, 1, 4, 3, 0, 10, 5, 2, 1, 4, 6, 3,
]

y_ticks = [0.0, 0.2, 0.4, 0.6, 0.8, 1.0]
y_ticktext = ["0.0", "0.2", "0.4", "0.6", "0.8", "1.0"]
series_names = ["\u00a0\u00a0\u00a0\u00a0\u212c", "\u00a0\u00a0\u00a0\u00a0\U0001D4A5"]

# ---------------- build sample positions ----------------
def interleave(a, b):
    return [v for pair in zip(a, b) for v in pair]

regions = [
    (interleave(cold_B_a, cold_B_b), interleave(cold_J_a, cold_J_b)),
    (interleave(mid_B_a, mid_B_b), interleave(mid_J_a, mid_J_b)),
    (interleave(hot_B_a, hot_B_b), interleave(hot_J_a, hot_J_b)),
]

def region_x(vals, k):
    n = len(vals)
    return k * region_len + np.arange(n) * region_len / n

xs = np.concatenate([region_x(b, k) for k, (b, j) in enumerate(regions)]).tolist()
yB = (np.concatenate([np.array(b, float) for b, j in regions]) / 100.0).tolist()
yJ = (np.concatenate([np.array(j, float) for b, j in regions]) / 100.0).tolist()

SERIF = "Liberation Serif, Times New Roman, DejaVu Serif, serif"
INK = "#1f1f1f"

fig = go.Figure()
fig.add_trace(go.Scatter(
    x=xs, y=yB, mode="markers", showlegend=False,
    marker=dict(symbol="triangle-up", size=9, color="#1f77b4", opacity=0.6, line=dict(width=0)),
    xaxis="x", yaxis="y", hoverinfo="skip"))
fig.add_trace(go.Scatter(
    x=xs, y=yJ, mode="markers", showlegend=False,
    marker=dict(symbol="circle", size=10, color="black", opacity=0.55, line=dict(width=0)),
    xaxis="x", yaxis="y", hoverinfo="skip"))
# legend entries (pale, small symbols as in the reference legend)
fig.add_trace(go.Scatter(x=[None], y=[None], mode="markers", name=series_names[0],
                         marker=dict(symbol="triangle-up", size=7, color="#1f77b4", opacity=0.35),
                         xaxis="x", yaxis="y"))
fig.add_trace(go.Scatter(x=[None], y=[None], mode="markers", name=series_names[1],
                         marker=dict(symbol="circle", size=7, color="black", opacity=0.3),
                         xaxis="x", yaxis="y"))

# gradient shaft of the Cold <-> Hot arrow (decoration on a pixel axis)
ncol = 80
shaft_x0, shaft_x1 = 207, 570
fig.add_trace(go.Heatmap(
    z=[list(range(ncol))], x0=shaft_x0 + (shaft_x1 - shaft_x0) / ncol / 2, dx=(shaft_x1 - shaft_x0) / ncol,
    y0=498.5, dy=8, colorscale=[[0, "#a6c9e6"], [1, "#f1957c"]], showscale=False,
    hoverinfo="skip", xaxis="x2", yaxis="y2", zmin=0, zmax=ncol - 1))

# ---------------- diagram helpers (pixel coordinates on x2/y2) ----------------
def rrect(x0, y0, x1, y1, r):
    return (f"M{x0 + r},{y0} L{x1 - r},{y0} Q{x1},{y0} {x1},{y0 + r} L{x1},{y1 - r} "
            f"Q{x1},{y1} {x1 - r},{y1} L{x0 + r},{y1} Q{x0},{y1} {x0},{y1 - r} "
            f"L{x0},{y0 + r} Q{x0},{y0} {x0 + r},{y0} Z")

shapes = []
def add_rr(x0, y0, x1, y1, r, fill, line="#1e1e1e", lw=1):
    shapes.append(dict(type="path", path=rrect(x0, y0, x1, y1, r), xref="x2", yref="y2",
                       fillcolor=fill, line=dict(color=line, width=lw), layer="above"))

def add_line(x0, y0, x1, y1):
    shapes.append(dict(type="line", x0=x0, y0=y0, x1=x1, y1=y1, xref="x2", yref="y2",
                       line=dict(color="#262626", width=1.3), layer="above"))

DARK = "#3d3d3d"
GRAY = "#9d9d9d"
BLUE = "#00aeef"
STACK = ["#662d91", "#92278f", "#bf1e8c", "#ec008c"]

add_line(331, 86, 524, 210)
add_line(251, 227.7, 519, 225)
add_line(307, 373.3, 524, 240)

def stack(x0, y0, size=58, dx=4.5, dy=9.7):
    for i, c in enumerate(STACK):
        add_rr(x0 + i * dx, y0 + i * dy, x0 + i * dx + size, y0 + i * dy + size, 9, c)

def seg_pill(y0, y1, segs):
    add_rr(265.7, y0, 282.7, y1, 8.5, GRAY, "#333333")
    for (a, b), c in zip(segs, STACK):
        add_rr(269.3, a, 279.3, b, 4.5, c)

# top row
add_rr(122, 51, 180, 109, 8, DARK)
stack(185, 36.7)
seg_pill(3.3, 156, [(9.3, 42.7), (45.7, 79), (81.7, 115), (117.3, 150)])
add_rr(289.3, 2.7, 307.3, 156.7, 9, BLUE)
add_rr(314.3, 64.3, 331.7, 94.7, 3, BLUE)
# middle row
add_rr(122, 194.3, 180, 252.7, 8, DARK)
add_rr(201.7, 143.3, 226, 305, 12, GRAY, "#333333")
add_rr(205, 147.3, 222.7, 300.7, 8.8, DARK)
add_rr(233.3, 213.3, 251.7, 243.3, 3, BLUE)
# bottom row
add_rr(122, 338.3, 180, 396.7, 8, DARK)
stack(186, 326, size=57.5, dx=4.2, dy=9.7)
seg_pill(292.7, 445, [(299.3, 331.7), (335, 369.3), (371.7, 404), (407.3, 440)])
add_rr(290, 358.3, 307.3, 388.3, 3, BLUE)
# output node
add_rr(519, 210, 537, 240, 3, BLUE)

# arrow heads
shapes.append(dict(type="path", path="M186.7,498.3 L215,483.3 L207,498.3 L215,513.3 Z",
                   xref="x2", yref="y2", fillcolor="#a4c8e7", line=dict(width=0), layer="above"))
shapes.append(dict(type="path", path="M590.7,498.3 L562.3,483.3 L570,498.3 L562.3,513.3 Z",
                   xref="x2", yref="y2", fillcolor="#f1927a", line=dict(width=0), layer="above"))

# region separators at regime boundaries
for k in (1, 2):
    shapes.append(dict(type="line", xref="x", yref="y domain", x0=k * region_len, x1=k * region_len,
                       y0=0, y1=1, line=dict(color="#111111", width=1)))

# ---------------- text ----------------
ann = []
def txt(x, y, s, size, color=INK, xanchor="center", angle=0):
    ann.append(dict(x=x, y=y, xref="x2", yref="y2", text=s, showarrow=False, xanchor=xanchor,
                    yanchor="middle", textangle=angle, font=dict(family=SERIF, size=size, color=color)))

txt(27, 30, "(a)", 27)
txt(27, 484, "(b)", 27)
for yc in (80, 223.5, 367.5):
    txt(151, yc, "<b>X</b>", 23, "white")
txt(457, 83, "<i>P</i>(\u212c|<b>X</b>)", 23)
txt(455, 115, "<i>P</i>(\U0001D4A5|<b>X</b>)", 23)
txt(380, 208, "<i>P</i>(F|\u212c, <b>X</b>)", 23)
txt(545, 223, "<i>P</i>(F|<b>X</b>)", 23, xanchor="left")
txt(437, 339, "<i>P</i>(F|\U0001D4A5, <b>X</b>)", 23)
txt(154, 496, regime_names[0], 28)
txt(618, 496, regime_names[1], 28)
txt(389, 893, "Samples", 22)
txt(47, 711, "<i>P</i>(\u212c|<b>X</b>)", 22, angle=-90)

y_lo, y_hi = -0.057, 1.058
fig.update_layout(
    width=W, height=H, margin=dict(l=0, r=0, t=0, b=0),
    paper_bgcolor="white", plot_bgcolor="rgba(0,0,0,0)",
    showlegend=True,
    legend=dict(x=115 / W, y=1 - 681.7 / H, xanchor="left", yanchor="top",
                bordercolor="#d6d6d6", borderwidth=1, bgcolor="rgba(255,255,255,0.85)",
                font=dict(family=SERIF, size=18, color=INK), tracegroupgap=0),
    xaxis=dict(domain=[106 / W, 1.0], range=[-5, 2980], showticklabels=False, ticks="",
               showline=True, mirror=True, linecolor="#222222", linewidth=1.7,
               showgrid=False, zeroline=False, anchor="y"),
    yaxis=dict(domain=[1 - 880.7 / H, 1 - 540 / H], range=[y_lo, y_hi], tickvals=y_ticks,
               ticktext=y_ticktext, ticks="outside", ticklen=6, tickwidth=1.4, tickcolor="#222222",
               showline=True, mirror=False, linecolor="#222222", linewidth=1.7,
               showgrid=False, zeroline=False, tickfont=dict(family=SERIF, size=21, color=INK),
               anchor="x"),
    xaxis2=dict(domain=[0, 1], range=[0, W], visible=False, anchor="y2", fixedrange=True),
    yaxis2=dict(domain=[0, 1], range=[H, 0], visible=False, anchor="x2", fixedrange=True),
    shapes=shapes, annotations=ann,
)

fig.write_html("out.html", config={"displayModeBar": False})
